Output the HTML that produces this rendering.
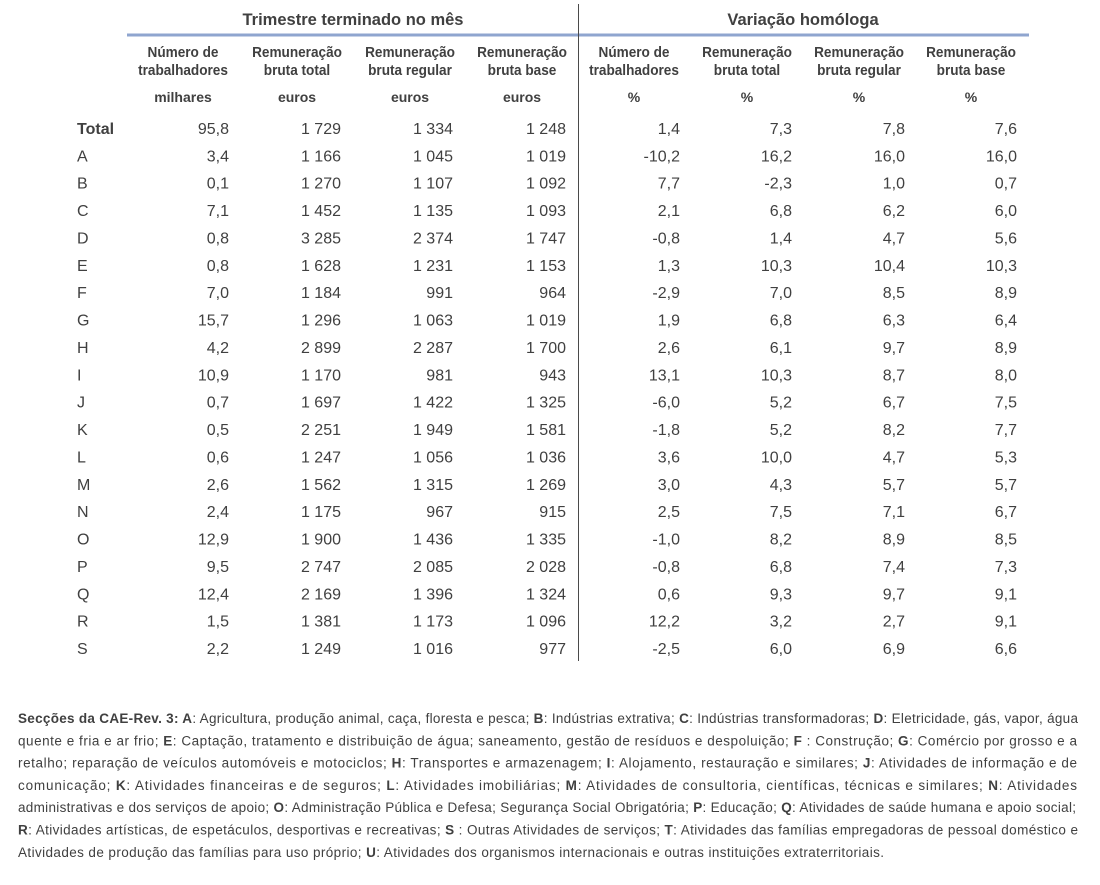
<!DOCTYPE html>
<html><head><meta charset="utf-8"><style>
html,body{margin:0;padding:0;background:#fff;}
svg{display:block;}
text{font-family:"Liberation Sans",Arial,sans-serif;fill:#404040;}
.t{font-size:16.5px;font-weight:bold;text-anchor:middle;}
.h{font-size:15px;font-weight:bold;text-anchor:middle;}
.u{font-size:14px;font-weight:bold;text-anchor:middle;}
.d{font-size:16px;text-anchor:end;}
.l{font-size:16px;}
.f{font-size:13.5px;}
.f tspan.b{font-weight:bold;}
</style></head><body>
<svg width="1100" height="885" viewBox="0 0 1100 885" xmlns="http://www.w3.org/2000/svg">
<rect width="1100" height="885" fill="#fff"/>
<text class="t" x="353" y="25">Trimestre terminado no mês</text>
<text class="t" x="803" y="25">Variação homóloga</text>
<rect x="127" y="33.5" width="902" height="3" fill="#8fa5cf"/>
<line x1="578.5" y1="4" x2="578.5" y2="661" stroke="#4a4a4a" stroke-width="1"/>
<g transform="translate(183,0) scale(0.907,1)"><text class="h" x="0" y="57">Número de</text><text class="h" x="0" y="75">trabalhadores</text></g>
<g transform="translate(297,0) scale(0.907,1)"><text class="h" x="0" y="57">Remuneração</text><text class="h" x="0" y="75">bruta total</text></g>
<g transform="translate(410,0) scale(0.907,1)"><text class="h" x="0" y="57">Remuneração</text><text class="h" x="0" y="75">bruta regular</text></g>
<g transform="translate(522,0) scale(0.907,1)"><text class="h" x="0" y="57">Remuneração</text><text class="h" x="0" y="75">bruta base</text></g>
<g transform="translate(634,0) scale(0.907,1)"><text class="h" x="0" y="57">Número de</text><text class="h" x="0" y="75">trabalhadores</text></g>
<g transform="translate(747,0) scale(0.907,1)"><text class="h" x="0" y="57">Remuneração</text><text class="h" x="0" y="75">bruta total</text></g>
<g transform="translate(859,0) scale(0.907,1)"><text class="h" x="0" y="57">Remuneração</text><text class="h" x="0" y="75">bruta regular</text></g>
<g transform="translate(971,0) scale(0.907,1)"><text class="h" x="0" y="57">Remuneração</text><text class="h" x="0" y="75">bruta base</text></g>
<text class="u" x="183" y="102">milhares</text>
<text class="u" x="297" y="102">euros</text>
<text class="u" x="410" y="102">euros</text>
<text class="u" x="522" y="102">euros</text>
<text class="u" x="634" y="102">%</text>
<text class="u" x="747" y="102">%</text>
<text class="u" x="859" y="102">%</text>
<text class="u" x="971" y="102">%</text>

<text class="f" x="18" y="723" textLength="1060" lengthAdjust="spacing"><tspan class="b">Secções da CAE-Rev. 3: A</tspan>: Agricultura, produção animal, caça, floresta e pesca; <tspan class="b">B</tspan>: Indústrias extrativa; <tspan class="b">C</tspan>: Indústrias transformadoras; <tspan class="b">D</tspan>: Eletricidade, gás, vapor, água</text>
<text class="f" x="18" y="745.3" textLength="1059" lengthAdjust="spacing">quente e fria e ar frio; <tspan class="b">E</tspan>: Captação, tratamento e distribuição de água; saneamento, gestão de resíduos e despoluição; <tspan class="b">F</tspan> : Construção; <tspan class="b">G</tspan>: Comércio por grosso e a</text>
<text class="f" x="18" y="767.6" textLength="1059" lengthAdjust="spacing">retalho; reparação de veículos automóveis e motociclos; <tspan class="b">H</tspan>: Transportes e armazenagem; <tspan class="b">I</tspan>: Alojamento, restauração e similares; <tspan class="b">J</tspan>: Atividades de informação e de</text>
<text class="f" x="18" y="789.9" textLength="1059" lengthAdjust="spacing">comunicação; <tspan class="b">K</tspan>: Atividades financeiras e de seguros; <tspan class="b">L</tspan>: Atividades imobiliárias; <tspan class="b">M</tspan>: Atividades de consultoria, científicas, técnicas e similares; <tspan class="b">N</tspan>: Atividades</text>
<text class="f" x="18" y="812.2" textLength="1058" lengthAdjust="spacing">administrativas e dos serviços de apoio; <tspan class="b">O</tspan>: Administração Pública e Defesa; Segurança Social Obrigatória; <tspan class="b">P</tspan>: Educação; <tspan class="b">Q</tspan>: Atividades de saúde humana e apoio social;</text>
<text class="f" x="18" y="834.5" textLength="1060" lengthAdjust="spacing"><tspan class="b">R</tspan>: Atividades artísticas, de espetáculos, desportivas e recreativas; <tspan class="b">S</tspan> : Outras Atividades de serviços; <tspan class="b">T</tspan>: Atividades das famílias empregadoras de pessoal doméstico e</text>
<text class="f" x="18" y="856.8" textLength="866" lengthAdjust="spacing">Atividades de produção das famílias para uso próprio; <tspan class="b">U</tspan>: Atividades dos organismos internacionais e outras instituições extraterritoriais.</text>

<text class="l" x="77" y="134" font-weight="bold">Total</text><text class="d" x="229" y="134">95,8</text><text class="d" x="341" y="134">1 729</text><text class="d" x="453" y="134">1 334</text><text class="d" x="566" y="134">1 248</text><text class="d" x="680" y="134">1,4</text><text class="d" x="792" y="134">7,3</text><text class="d" x="905" y="134">7,8</text><text class="d" x="1017" y="134">7,6</text>
<text class="l" x="77" y="161.4">A</text><text class="d" x="229" y="161.4">3,4</text><text class="d" x="341" y="161.4">1 166</text><text class="d" x="453" y="161.4">1 045</text><text class="d" x="566" y="161.4">1 019</text><text class="d" x="680" y="161.4">-10,2</text><text class="d" x="792" y="161.4">16,2</text><text class="d" x="905" y="161.4">16,0</text><text class="d" x="1017" y="161.4">16,0</text>
<text class="l" x="77" y="188.7">B</text><text class="d" x="229" y="188.7">0,1</text><text class="d" x="341" y="188.7">1 270</text><text class="d" x="453" y="188.7">1 107</text><text class="d" x="566" y="188.7">1 092</text><text class="d" x="680" y="188.7">7,7</text><text class="d" x="792" y="188.7">-2,3</text><text class="d" x="905" y="188.7">1,0</text><text class="d" x="1017" y="188.7">0,7</text>
<text class="l" x="77" y="216.1">C</text><text class="d" x="229" y="216.1">7,1</text><text class="d" x="341" y="216.1">1 452</text><text class="d" x="453" y="216.1">1 135</text><text class="d" x="566" y="216.1">1 093</text><text class="d" x="680" y="216.1">2,1</text><text class="d" x="792" y="216.1">6,8</text><text class="d" x="905" y="216.1">6,2</text><text class="d" x="1017" y="216.1">6,0</text>
<text class="l" x="77" y="243.5">D</text><text class="d" x="229" y="243.5">0,8</text><text class="d" x="341" y="243.5">3 285</text><text class="d" x="453" y="243.5">2 374</text><text class="d" x="566" y="243.5">1 747</text><text class="d" x="680" y="243.5">-0,8</text><text class="d" x="792" y="243.5">1,4</text><text class="d" x="905" y="243.5">4,7</text><text class="d" x="1017" y="243.5">5,6</text>
<text class="l" x="77" y="270.9">E</text><text class="d" x="229" y="270.9">0,8</text><text class="d" x="341" y="270.9">1 628</text><text class="d" x="453" y="270.9">1 231</text><text class="d" x="566" y="270.9">1 153</text><text class="d" x="680" y="270.9">1,3</text><text class="d" x="792" y="270.9">10,3</text><text class="d" x="905" y="270.9">10,4</text><text class="d" x="1017" y="270.9">10,3</text>
<text class="l" x="77" y="298.2">F</text><text class="d" x="229" y="298.2">7,0</text><text class="d" x="341" y="298.2">1 184</text><text class="d" x="453" y="298.2">991</text><text class="d" x="566" y="298.2">964</text><text class="d" x="680" y="298.2">-2,9</text><text class="d" x="792" y="298.2">7,0</text><text class="d" x="905" y="298.2">8,5</text><text class="d" x="1017" y="298.2">8,9</text>
<text class="l" x="77" y="325.6">G</text><text class="d" x="229" y="325.6">15,7</text><text class="d" x="341" y="325.6">1 296</text><text class="d" x="453" y="325.6">1 063</text><text class="d" x="566" y="325.6">1 019</text><text class="d" x="680" y="325.6">1,9</text><text class="d" x="792" y="325.6">6,8</text><text class="d" x="905" y="325.6">6,3</text><text class="d" x="1017" y="325.6">6,4</text>
<text class="l" x="77" y="353">H</text><text class="d" x="229" y="353">4,2</text><text class="d" x="341" y="353">2 899</text><text class="d" x="453" y="353">2 287</text><text class="d" x="566" y="353">1 700</text><text class="d" x="680" y="353">2,6</text><text class="d" x="792" y="353">6,1</text><text class="d" x="905" y="353">9,7</text><text class="d" x="1017" y="353">8,9</text>
<text class="l" x="77" y="380.3">I</text><text class="d" x="229" y="380.3">10,9</text><text class="d" x="341" y="380.3">1 170</text><text class="d" x="453" y="380.3">981</text><text class="d" x="566" y="380.3">943</text><text class="d" x="680" y="380.3">13,1</text><text class="d" x="792" y="380.3">10,3</text><text class="d" x="905" y="380.3">8,7</text><text class="d" x="1017" y="380.3">8,0</text>
<text class="l" x="77" y="407.7">J</text><text class="d" x="229" y="407.7">0,7</text><text class="d" x="341" y="407.7">1 697</text><text class="d" x="453" y="407.7">1 422</text><text class="d" x="566" y="407.7">1 325</text><text class="d" x="680" y="407.7">-6,0</text><text class="d" x="792" y="407.7">5,2</text><text class="d" x="905" y="407.7">6,7</text><text class="d" x="1017" y="407.7">7,5</text>
<text class="l" x="77" y="435.1">K</text><text class="d" x="229" y="435.1">0,5</text><text class="d" x="341" y="435.1">2 251</text><text class="d" x="453" y="435.1">1 949</text><text class="d" x="566" y="435.1">1 581</text><text class="d" x="680" y="435.1">-1,8</text><text class="d" x="792" y="435.1">5,2</text><text class="d" x="905" y="435.1">8,2</text><text class="d" x="1017" y="435.1">7,7</text>
<text class="l" x="77" y="462.4">L</text><text class="d" x="229" y="462.4">0,6</text><text class="d" x="341" y="462.4">1 247</text><text class="d" x="453" y="462.4">1 056</text><text class="d" x="566" y="462.4">1 036</text><text class="d" x="680" y="462.4">3,6</text><text class="d" x="792" y="462.4">10,0</text><text class="d" x="905" y="462.4">4,7</text><text class="d" x="1017" y="462.4">5,3</text>
<text class="l" x="77" y="489.8">M</text><text class="d" x="229" y="489.8">2,6</text><text class="d" x="341" y="489.8">1 562</text><text class="d" x="453" y="489.8">1 315</text><text class="d" x="566" y="489.8">1 269</text><text class="d" x="680" y="489.8">3,0</text><text class="d" x="792" y="489.8">4,3</text><text class="d" x="905" y="489.8">5,7</text><text class="d" x="1017" y="489.8">5,7</text>
<text class="l" x="77" y="517.2">N</text><text class="d" x="229" y="517.2">2,4</text><text class="d" x="341" y="517.2">1 175</text><text class="d" x="453" y="517.2">967</text><text class="d" x="566" y="517.2">915</text><text class="d" x="680" y="517.2">2,5</text><text class="d" x="792" y="517.2">7,5</text><text class="d" x="905" y="517.2">7,1</text><text class="d" x="1017" y="517.2">6,7</text>
<text class="l" x="77" y="544.5">O</text><text class="d" x="229" y="544.5">12,9</text><text class="d" x="341" y="544.5">1 900</text><text class="d" x="453" y="544.5">1 436</text><text class="d" x="566" y="544.5">1 335</text><text class="d" x="680" y="544.5">-1,0</text><text class="d" x="792" y="544.5">8,2</text><text class="d" x="905" y="544.5">8,9</text><text class="d" x="1017" y="544.5">8,5</text>
<text class="l" x="77" y="571.9">P</text><text class="d" x="229" y="571.9">9,5</text><text class="d" x="341" y="571.9">2 747</text><text class="d" x="453" y="571.9">2 085</text><text class="d" x="566" y="571.9">2 028</text><text class="d" x="680" y="571.9">-0,8</text><text class="d" x="792" y="571.9">6,8</text><text class="d" x="905" y="571.9">7,4</text><text class="d" x="1017" y="571.9">7,3</text>
<text class="l" x="77" y="599.3">Q</text><text class="d" x="229" y="599.3">12,4</text><text class="d" x="341" y="599.3">2 169</text><text class="d" x="453" y="599.3">1 396</text><text class="d" x="566" y="599.3">1 324</text><text class="d" x="680" y="599.3">0,6</text><text class="d" x="792" y="599.3">9,3</text><text class="d" x="905" y="599.3">9,7</text><text class="d" x="1017" y="599.3">9,1</text>
<text class="l" x="77" y="626.7">R</text><text class="d" x="229" y="626.7">1,5</text><text class="d" x="341" y="626.7">1 381</text><text class="d" x="453" y="626.7">1 173</text><text class="d" x="566" y="626.7">1 096</text><text class="d" x="680" y="626.7">12,2</text><text class="d" x="792" y="626.7">3,2</text><text class="d" x="905" y="626.7">2,7</text><text class="d" x="1017" y="626.7">9,1</text>
<text class="l" x="77" y="654">S</text><text class="d" x="229" y="654">2,2</text><text class="d" x="341" y="654">1 249</text><text class="d" x="453" y="654">1 016</text><text class="d" x="566" y="654">977</text><text class="d" x="680" y="654">-2,5</text><text class="d" x="792" y="654">6,0</text><text class="d" x="905" y="654">6,9</text><text class="d" x="1017" y="654">6,6</text>
</svg>
</body></html>
